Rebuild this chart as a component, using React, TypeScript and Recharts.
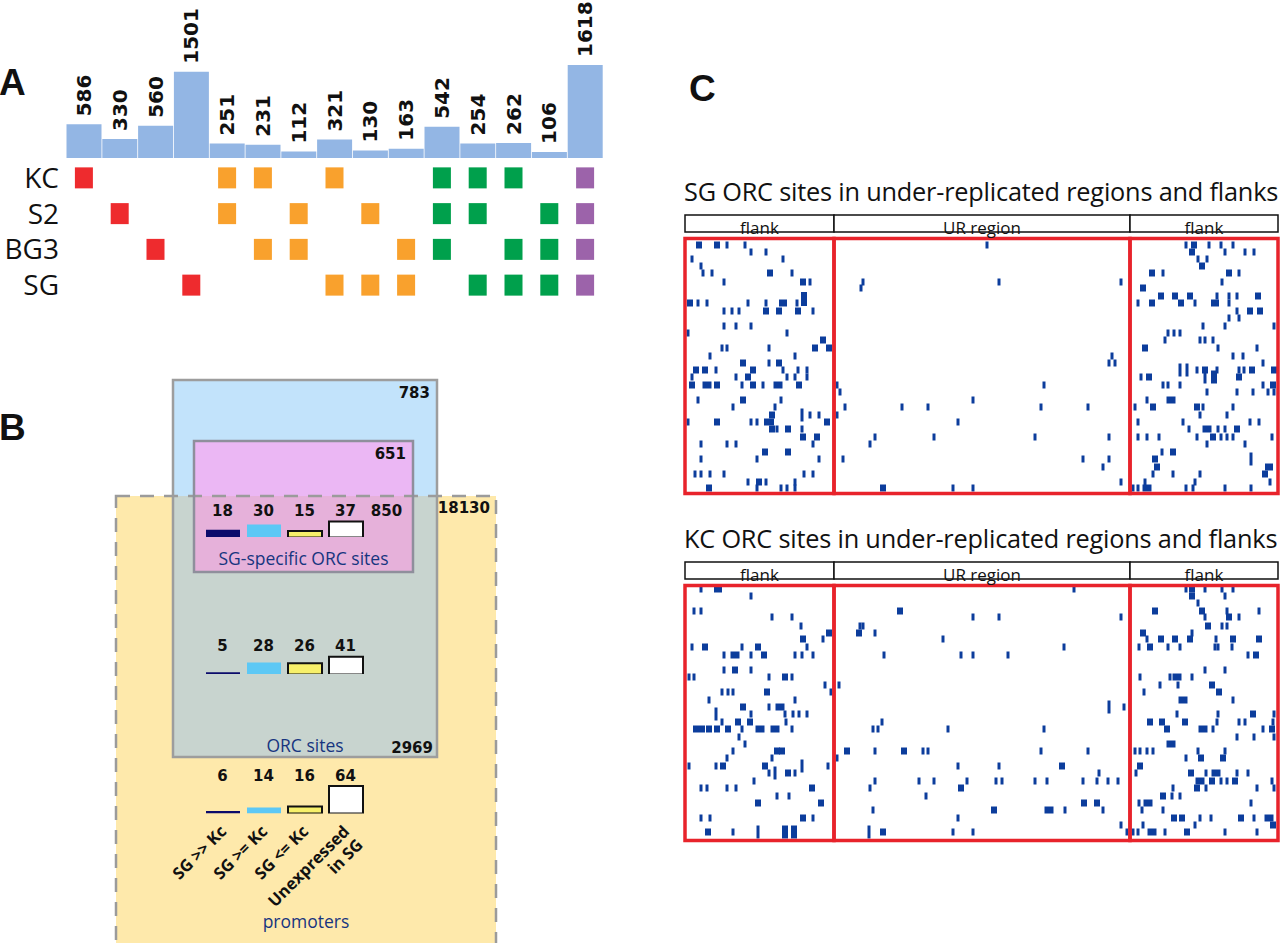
import React from 'react';
import {
  BarChart,
  Bar,
  XAxis,
  YAxis,
  ScatterChart,
  Scatter,
  ReferenceArea,
  LabelList,
  Label,
  Cell,
} from 'recharts';

// ---------- Panel A: ORC sites shared between cell-type combinations ----------
const comboCounts = [586, 330, 560, 1501, 251, 231, 112, 321, 130, 163, 542, 254, 262, 106, 1618];
const comboClass = [
  'one', 'one', 'one', 'one',
  'two', 'two', 'two', 'two', 'two', 'two',
  'three', 'three', 'three', 'three',
  'four',
];
const cellTypes = ['KC', 'S2', 'BG3', 'SG'];
const kcCombos = [0, 4, 5, 7, 10, 11, 12, 14];
const s2Combos = [1, 4, 6, 8, 10, 11, 13, 14];
const bg3Combos = [2, 5, 6, 9, 10, 12, 13, 14];
const sgCombos = [3, 7, 8, 9, 11, 12, 13, 14];

// ---------- Panel B: expression classes (percent) ----------
const sgSpecificPct = [18, 30, 15, 37];
const orcSitePct = [5, 28, 26, 41];
const promoterPct = [6, 14, 16, 64];
const expressionClasses = ['SG >> Kc', 'SG >= Kc', 'SG <= Kc', 'Unexpressed\nin SG'];
const sgSpecificOther = 850;
const orcOnlyCount = 783;
const sgSpecificOnlyCount = 651;
const promoterCount = 18130;
const orcPromoterCount = 2969;

// ---------- Panel C: ORC sites along UR regions (row = site, x = bin) ----------
const urSegments = ['flank', 'UR region', 'flank'];
const urSegmentEdges = [0, 149, 445, 593];

type HeatRow = [number, number[][]]; // [row position, [[bin, binWidth, rowSpan?], ...]]

const sgRows: HeatRow[] = [
  [7, [[14, 5], [32, 5], [42, 2], [60, 2], [302, 2], [501, 2], [509, 5], [524, 2], [536, 2], [548, 2]]],
  [14, [[66, 2], [81, 2], [507, 5], [540, 2], [560, 2], [569, 2]]],
  [21, [[7, 2], [98, 2], [513, 2], [522, 2]]],
  [28, [[16, 2], [517, 5]]],
  [35, [[18, 2], [27, 2], [85, 5], [107, 2], [467, 5], [478, 2], [544, 5], [554, 2]]],
  [44, [[39, 2], [118, 5], [125, 2], [178, 2], [314, 2], [436, 2], [537, 2]]],
  [50, [[176, 2], [458, 5]]],
  [58, [[476, 5], [490, 5], [505, 5], [532, 2], [544, 2], [552, 2], [573, 5]]],
  [61, [[119, 5, 13]]],
  [65, [[5, 5], [13, 2], [22, 2], [63, 2], [81, 2], [98, 7], [112, 2], [453, 2], [467, 5], [496, 5], [510, 2], [530, 7], [544, 2]]],
  [73, [[39, 2], [47, 2], [54, 2], [81, 5], [94, 5], [113, 5], [128, 2], [552, 2], [565, 5], [575, 5]]],
  [80, [[544, 2], [554, 2]]],
  [88, [[39, 2], [51, 2], [66, 2], [518, 2], [540, 2], [589, 2]]],
  [95, [[3, 2], [102, 2], [483, 2], [489, 2], [495, 2]]],
  [102, [[138, 5], [480, 2], [515, 2], [520, 2], [528, 2]]],
  [110, [[37, 2], [42, 2], [84, 2], [130, 5], [144, 5], [460, 5], [533, 2], [572, 2]]],
  [118, [[25, 2], [110, 2], [427, 2], [548, 2], [558, 2]]],
  [125, [[58, 5], [84, 2], [94, 5], [424, 2], [430, 2], [578, 2]]],
  [132, [[11, 5], [20, 5], [31, 2], [68, 5], [98, 2], [113, 2], [122, 2], [495, 2, 12], [502, 2, 12], [512, 2], [520, 5], [532, 2], [554, 2], [559, 2], [567, 5], [589, 5]]],
  [139, [[7, 2], [51, 2], [63, 5], [102, 2], [110, 2], [122, 2], [456, 2], [464, 5], [520, 2, 12], [529, 5, 12], [554, 5]]],
  [147, [[7, 5], [22, 8], [32, 5], [57, 2], [68, 5], [78, 2], [93, 8], [114, 5], [152, 2], [359, 2], [478, 2], [483, 2], [495, 2], [578, 2], [588, 5]]],
  [154, [[155, 2], [522, 2], [552, 2], [568, 2], [583, 2], [589, 2]]],
  [162, [[13, 2], [58, 5], [96, 2], [288, 2], [462, 2], [486, 8]]],
  [169, [[48, 2], [90, 2], [160, 2], [217, 2], [243, 2], [356, 2], [403, 2], [450, 2], [468, 5], [512, 5], [518, 2], [548, 2]]],
  [177, [[87, 5], [117, 2, 12], [125, 2], [134, 2], [152, 2], [515, 2], [542, 2]]],
  [184, [[3, 2], [32, 5], [66, 2], [72, 2], [84, 9], [142, 5], [273, 2], [453, 2], [498, 2], [565, 2], [574, 2]]],
  [191, [[87, 5], [92, 2], [103, 5], [117, 2], [504, 2], [522, 8], [533, 2], [540, 2], [552, 5]]],
  [199, [[118, 5], [132, 5], [190, 2], [249, 2], [350, 2], [424, 2], [453, 2], [462, 2], [474, 2], [512, 2], [528, 5], [536, 2], [542, 2], [548, 2], [587, 2]]],
  [206, [[16, 2], [42, 2], [51, 2], [128, 2], [185, 2], [522, 2], [560, 2]]],
  [214, [[80, 5], [103, 5], [477, 2], [488, 5]]],
  [221, [[16, 2], [72, 2], [134, 2], [158, 2], [398, 2], [424, 2], [470, 5], [566, 2, 12]]],
  [229, [[418, 2], [472, 5], [584, 7]]],
  [236, [[10, 2], [16, 2], [25, 2], [39, 2], [119, 2], [128, 2], [468, 2], [488, 2], [515, 2], [580, 5]]],
  [244, [[63, 2], [74, 5], [81, 2], [110, 2], [436, 2], [460, 2], [510, 2], [585, 2]]],
  [250, [[24, 5], [72, 2], [96, 2], [102, 2], [110, 2], [198, 5], [268, 2], [288, 2], [448, 2], [453, 2], [462, 8], [501, 2], [508, 2], [540, 2], [566, 2]]],
];

const kcRows: HeatRow[] = [
  [4, [[16, 2], [33, 7], [389, 2], [501, 2], [507, 5], [520, 2], [537, 2], [548, 2]]],
  [11, [[66, 2], [507, 5], [540, 2]]],
  [18, [[513, 2]]],
  [26, [[9, 2], [16, 2], [215, 5], [470, 5], [517, 5], [542, 2], [574, 2]]],
  [32, [[87, 2], [107, 2], [288, 2], [314, 2], [436, 2], [520, 2], [544, 5], [554, 2]]],
  [41, [[116, 2], [175, 2], [178, 2], [523, 5], [537, 2], [542, 2]]],
  [48, [[144, 5], [174, 5], [190, 2], [458, 5], [507, 2]]],
  [54, [[118, 5], [138, 2], [258, 2], [462, 2], [476, 5], [490, 5], [505, 5], [531, 2], [548, 5], [574, 5]]],
  [62, [[7, 2], [20, 5], [57, 2], [73, 5], [122, 2], [379, 2], [454, 2], [465, 5], [483, 2], [495, 2], [530, 2], [533, 2], [547, 2]]],
  [70, [[39, 2], [50, 8], [66, 2], [79, 5], [110, 2], [117, 2], [128, 2], [199, 2], [276, 2], [288, 2], [323, 2], [563, 2], [571, 5]]],
  [85, [[39, 2], [50, 5], [66, 2], [520, 2], [540, 2]]],
  [92, [[4, 2], [9, 2], [84, 2], [100, 5], [107, 2], [455, 2], [485, 2], [492, 8], [507, 2]]],
  [100, [[140, 2], [154, 2], [475, 2], [493, 2], [527, 5]]],
  [107, [[37, 2], [43, 2], [48, 2], [82, 5], [146, 2], [459, 2], [534, 5]]],
  [115, [[24, 2], [110, 2], [498, 8], [548, 2]]],
  [122, [[58, 5], [84, 2], [95, 8], [424, 2, 12], [439, 2]]],
  [129, [[31, 2, 12], [66, 2], [100, 2], [108, 2], [114, 2], [122, 2], [492, 2], [533, 2], [568, 5], [589, 2]]],
  [137, [[37, 2], [53, 5], [65, 5], [101, 2], [197, 2], [465, 5], [477, 5], [500, 5], [532, 2], [554, 2], [560, 2], [588, 2]]],
  [144, [[11, 5], [17, 5], [24, 5], [32, 5], [43, 5], [57, 2], [75, 8], [90, 8], [107, 2], [188, 2], [193, 2], [263, 2], [359, 2], [482, 5], [518, 8], [528, 2], [578, 2], [587, 5]]],
  [152, [[54, 2], [552, 2], [569, 2], [589, 2]]],
  [159, [[60, 2], [486, 8]]],
  [166, [[48, 2], [92, 5], [97, 5], [162, 5], [190, 2], [219, 5], [238, 2], [243, 2], [356, 2], [403, 2], [450, 2], [455, 2], [462, 2], [468, 2], [513, 2], [540, 2]]],
  [173, [[42, 2], [87, 2], [152, 2], [501, 2], [516, 5], [538, 5]]],
  [181, [[4, 2], [31, 2], [38, 5], [80, 5], [117, 2, 12], [143, 2], [273, 2], [314, 2], [377, 5], [455, 5]]],
  [188, [[84, 2], [90, 2, 12], [103, 5], [110, 2], [414, 2], [451, 2], [506, 5], [521, 2], [531, 8], [552, 2], [563, 2]]],
  [196, [[69, 2], [190, 2], [234, 2], [249, 2], [282, 2], [311, 2], [317, 2], [350, 2], [362, 2], [398, 2], [412, 2], [423, 2], [433, 2], [515, 8], [527, 5], [536, 2], [542, 2], [550, 5], [587, 2]]],
  [203, [[16, 2], [22, 2], [42, 2], [51, 2], [127, 5], [185, 2], [276, 5], [488, 2], [512, 5], [521, 2], [572, 2], [589, 2]]],
  [211, [[92, 2], [104, 2], [241, 2], [478, 5], [487, 2], [495, 2]]],
  [218, [[73, 5], [136, 5], [399, 5], [412, 5], [454, 2], [463, 8], [566, 2]]],
  [225, [[188, 2], [309, 5], [364, 8], [380, 2], [418, 2], [457, 2], [478, 2]]],
  [233, [[16, 2], [25, 2], [118, 5], [128, 2], [273, 2], [489, 5], [497, 5], [515, 2], [526, 2], [556, 5], [569, 2], [584, 8]]],
  [240, [[436, 2], [458, 2], [510, 2], [588, 5]]],
  [247, [[23, 5], [48, 2], [73, 2, 12], [100, 5, 12], [109, 5, 12], [184, 2, 12], [198, 5], [268, 2], [288, 2], [442, 2], [448, 2], [453, 2], [467, 8], [480, 2], [502, 5], [540, 2], [572, 2]]],
];

// ---------- styles ----------
const classColors: Record<string, string> = {
  one: '#ee2b2e',
  two: '#f9a12d',
  three: '#00a04c',
  four: '#9c63aa',
};
const expressionStyles = [
  { fill: '#0b0b6b', stroke: 'none', strokeWidth: 0 },
  { fill: '#5dc8f5', stroke: 'none', strokeWidth: 0 },
  { fill: '#f7f06a', stroke: '#111', strokeWidth: 2 },
  { fill: '#ffffff', stroke: '#111', strokeWidth: 2 },
];
const NUM_FONT = 'DejaVu Sans';
const TEXT_FONT = 'Open Sans';
const PX_PER_PCT = 0.43;

const comboData = comboCounts.map((count, i) => ({ combo: i, count, cls: comboClass[i] }));
const membership = [kcCombos, s2Combos, bg3Combos, sgCombos];
const matrixPoints = membership.flatMap((combos, row) =>
  combos.map((col) => ({ col, row, cls: comboClass[col] }))
);

function RotatedCount(props: any) {
  const { x, y, width, value } = props;
  const cx = x + width / 2;
  const cy = y - 8;
  return (
    <text
      x={cx}
      y={cy}
      transform={`rotate(-90 ${cx} ${cy})`}
      textAnchor="start"
      dominantBaseline="central"
      fontFamily={NUM_FONT}
      fontWeight="bold"
      fontSize={20}
      fill="#111"
    >
      {value}
    </text>
  );
}

function MatrixSquare(props: any) {
  const { cx, cy, payload } = props;
  return <rect x={cx - 9} y={cy - 10.5} width={18} height={21} fill={classColors[payload.cls]} />;
}

function PanelA() {
  return (
    <>
      <div style={{ position: 'absolute', left: 66, top: 0 }}>
        <BarChart
          width={537}
          height={158}
          data={comboData}
          margin={{ top: 65, right: 0, bottom: 0, left: 0 }}
          barCategoryGap={0.5}
        >
          <XAxis dataKey="combo" hide />
          <YAxis hide domain={[0, 1618]} allowDataOverflow />
          <Bar dataKey="count" fill="#93b6e4" isAnimationActive={false}>
            <LabelList dataKey="count" content={RotatedCount} />
          </Bar>
        </BarChart>
      </div>
      <div style={{ position: 'absolute', left: 0, top: 140 }}>
        <ScatterChart width={603} height={183} margin={{ top: 20, right: 0, bottom: 20, left: 0 }}>
          <XAxis type="number" dataKey="col" domain={[-0.5, 14.5]} hide />
          <YAxis
            type="number"
            dataKey="row"
            domain={[-0.5, 3.5]}
            reversed
            ticks={[0, 1, 2, 3]}
            interval={0}
            tickFormatter={(v: number) => cellTypes[v]}
            width={66}
            axisLine={false}
            tickLine={false}
            tickSize={5}
            tick={{ fontSize: 28, fill: '#111', fontFamily: TEXT_FONT }}
          />
          <Scatter data={matrixPoints} shape={MatrixSquare} isAnimationActive={false} />
        </ScatterChart>
      </div>
    </>
  );
}

// ---------- Panel B ----------
const vennLayout = {
  promoters: { x1: 16, x2: 396, y1: 126, y2: 580 },
  orc: { x1: 73, x2: 337, y1: 10, y2: 387 },
  sgSpecific: { x1: 94, x2: 313, y1: 71, y2: 202 },
};

function ClassTick(props: any) {
  const { x, y, payload } = props;
  const lines = String(payload.value).split('\n');
  return (
    <g transform={`translate(${x + 5},${y + 19})`}>
      <text
        transform="rotate(-45)"
        textAnchor="end"
        fontFamily={TEXT_FONT}
        fontWeight="bold"
        fontSize={16.5}
        fill="#111"
      >
        {lines.map((l, i) => (
          <tspan key={i} x={0} dy={i === 0 ? 0 : 19}>
            {l}
          </tspan>
        ))}
      </text>
    </g>
  );
}

function PctBars({
  values,
  labels,
  plotTop,
  plotHeight,
  showClasses,
}: {
  values: number[];
  labels: string[];
  plotTop: number;
  plotHeight: number;
  showClasses?: boolean;
}) {
  const data = labels.map((label, i) => ({
    label,
    pct: values[i] ?? null,
    cls: expressionClasses[i] ?? '',
  }));
  const bottomH = showClasses ? 120 : 0;
  const side = 70;
  return (
    <div style={{ position: 'absolute', left: 202 - side, top: plotTop - 20 }}>
      <BarChart
        width={labels.length * 41 + side * 2}
        height={20 + plotHeight + bottomH}
        data={data}
        margin={{ top: 0, right: side, bottom: 0, left: side }}
      >
        <XAxis
          xAxisId="top"
          orientation="top"
          dataKey="label"
          height={20}
          interval={0}
          axisLine={false}
          tickLine={false}
          tickSize={0}
          tickMargin={2}
          tick={{ fontFamily: NUM_FONT, fontWeight: 700, fontSize: 15, fill: '#111' }}
        />
        {showClasses && (
          <XAxis
            xAxisId="bottom"
            orientation="bottom"
            dataKey="cls"
            height={bottomH}
            interval={0}
            axisLine={false}
            tickLine={false}
            tickSize={0}
            tickMargin={0}
            tick={<ClassTick />}
          />
        )}
        <YAxis hide domain={[0, plotHeight / PX_PER_PCT]} allowDataOverflow />
        <Bar dataKey="pct" xAxisId="top" barSize={34} isAnimationActive={false}>
          {data.map((d, i) => {
            const s = expressionStyles[i] ?? expressionStyles[0];
            return <Cell key={i} fill={s.fill} stroke={s.stroke} strokeWidth={s.strokeWidth} />;
          })}
        </Bar>
      </BarChart>
    </div>
  );
}

function PanelB() {
  const { promoters, orc, sgSpecific } = vennLayout;
  const numStyle = { fontFamily: NUM_FONT, fontWeight: 700, fontSize: 15, fill: '#111' };
  const nameStyle = { fontFamily: TEXT_FONT, fontSize: 17.5, fill: '#17357f' };
  const anchors = [
    { x: 0, y: 0 },
    { x: 410, y: 573 },
  ];
  return (
    <>
      <div style={{ position: 'absolute', left: 100, top: 370 }}>
        <ScatterChart width={410} height={573} margin={{ top: 0, right: 0, bottom: 0, left: 0 }}>
          <XAxis type="number" dataKey="x" domain={[0, 410]} hide />
          <YAxis type="number" dataKey="y" domain={[0, 573]} reversed hide />
          <Scatter data={anchors} fill="none" isAnimationActive={false} />
          {/* fills */}
          <ReferenceArea {...promoters} ifOverflow="hidden" fill="#fee9ab" fillOpacity={1} />
          <ReferenceArea x1={orc.x1} x2={orc.x2} y1={orc.y1} y2={promoters.y1} fill="#c2e3fb" fillOpacity={1} />
          <ReferenceArea x1={orc.x1} x2={orc.x2} y1={promoters.y1} y2={orc.y2} fill="#c8d4cf" fillOpacity={1} />
          <ReferenceArea x1={sgSpecific.x1} x2={sgSpecific.x2} y1={sgSpecific.y1} y2={promoters.y1} fill="#ebb7f4" fillOpacity={1} />
          <ReferenceArea x1={sgSpecific.x1} x2={sgSpecific.x2} y1={promoters.y1} y2={sgSpecific.y2} fill="#e6b1da" fillOpacity={1} />
          {/* outlines and labels */}
          <ReferenceArea
            {...promoters}
            ifOverflow="hidden"
            fill="none"
            stroke="#9b9b9b"
            strokeWidth={2.5}
            strokeDasharray="14 10"
          >
            <Label value={String(promoterCount)} position="insideTopRight" offset={6} {...numStyle} />
            <Label value="promoters" position="insideBottom" offset={22} {...nameStyle} />
          </ReferenceArea>
          <ReferenceArea {...orc} fill="none" stroke="#9d9d9d" strokeWidth={2.5}>
            <Label value={String(orcOnlyCount)} position="insideTopRight" offset={7} {...numStyle} />
            <Label value={String(orcPromoterCount)} position="insideBottomRight" offset={4} {...numStyle} />
            <Label value="ORC sites" position="insideBottom" offset={5} {...nameStyle} />
          </ReferenceArea>
          <ReferenceArea {...sgSpecific} fill="none" stroke="#8f8f9c" strokeWidth={2.5}>
            <Label value={String(sgSpecificOnlyCount)} position="insideTopRight" offset={7} {...numStyle} />
            <Label value="SG-specific ORC sites" position="insideBottom" offset={7} {...nameStyle} />
          </ReferenceArea>
        </ScatterChart>
      </div>
      <PctBars
        values={sgSpecificPct}
        labels={[...sgSpecificPct.map(String), String(sgSpecificOther)]}
        plotTop={517.5}
        plotHeight={19.5}
      />
      <PctBars values={orcSitePct} labels={orcSitePct.map(String)} plotTop={652.5} plotHeight={21.5} />
      <PctBars
        values={promoterPct}
        labels={promoterPct.map(String)}
        plotTop={782.5}
        plotHeight={30.5}
        showClasses
      />
    </>
  );
}

// ---------- Panel C ----------
function HeatPanel({ title, rows, base }: { title: string; rows: HeatRow[]; base: number }) {
  const marks = rows.flatMap(([y, cells]) =>
    cells.map(([x, w, h]) => ({ x, y, w: w + 1, h: (h ?? 6) + 1 }))
  );
  const segs = urSegments.map((name, i) => ({ name, from: urSegmentEdges[i], to: urSegmentEdges[i + 1] }));
  return (
    <>
      <div
        style={{
          position: 'absolute',
          left: 684,
          top: base - 62,
          fontFamily: TEXT_FONT,
          fontSize: 25.3,
          lineHeight: '30px',
          letterSpacing: '-0.2px',
          color: '#111',
          whiteSpace: 'nowrap',
        }}
      >
        {title}
      </div>
      <div style={{ position: 'absolute', left: 682, top: base - 28 }}>
        <ScatterChart width={599} height={289} margin={{ top: 3, right: 3, bottom: 3, left: 3 }}>
          <XAxis type="number" dataKey="x" domain={[0, 593]} hide />
          <YAxis type="number" dataKey="y" domain={[-25, 258]} reversed hide />
          <Scatter data={marks} shape={() => <g />} isAnimationActive={false} />
          {segs.map((s, i) => (
            <ReferenceArea
              key={`h${i}`}
              x1={s.from}
              x2={s.to}
              y1={-23}
              y2={-6}
              fill="#fff"
              fillOpacity={1}
              stroke="#111"
              strokeWidth={1.5}
            >
              <Label value={s.name} position="insideBottom" offset={-2} fontFamily={TEXT_FONT} fontSize={17} fill="#111" />
            </ReferenceArea>
          ))}
          {marks.map((m, i) => (
            <ReferenceArea
              key={i}
              x1={m.x - m.w / 2}
              x2={m.x + m.w / 2}
              y1={m.y - m.h / 2}
              y2={m.y + m.h / 2}
              fill="#0c3d9c"
              fillOpacity={1}
            />
          ))}
          {segs.map((s, i) => (
            <ReferenceArea
              key={`f${i}`}
              x1={s.from}
              x2={s.to}
              y1={0.5}
              y2={255.5}
              fill="none"
              stroke="#e8232b"
              strokeWidth={3.5}
            />
          ))}
        </ScatterChart>
      </div>
    </>
  );
}

const letterStyle: React.CSSProperties = {
  position: 'absolute',
  fontFamily: 'Liberation Sans',
  fontWeight: 'bold',
  fontSize: 37,
  lineHeight: '37px',
  color: '#111',
};

export default function App() {
  return (
    <div style={{ position: 'absolute', left: 0, top: 0, width: 1280, height: 943, background: '#fff', overflow: 'hidden' }}>
      <div style={{ ...letterStyle, left: -1, top: 64 }}>A</div>
      <div style={{ ...letterStyle, left: -1, top: 409 }}>B</div>
      <div style={{ ...letterStyle, left: 689, top: 70 }}>C</div>
      <PanelA />
      <PanelB />
      <HeatPanel title="SG ORC sites in under-replicated regions and flanks" rows={sgRows} base={238} />
      <HeatPanel title="KC ORC sites in under-replicated regions and flanks" rows={kcRows} base={585} />
    </div>
  );
}
